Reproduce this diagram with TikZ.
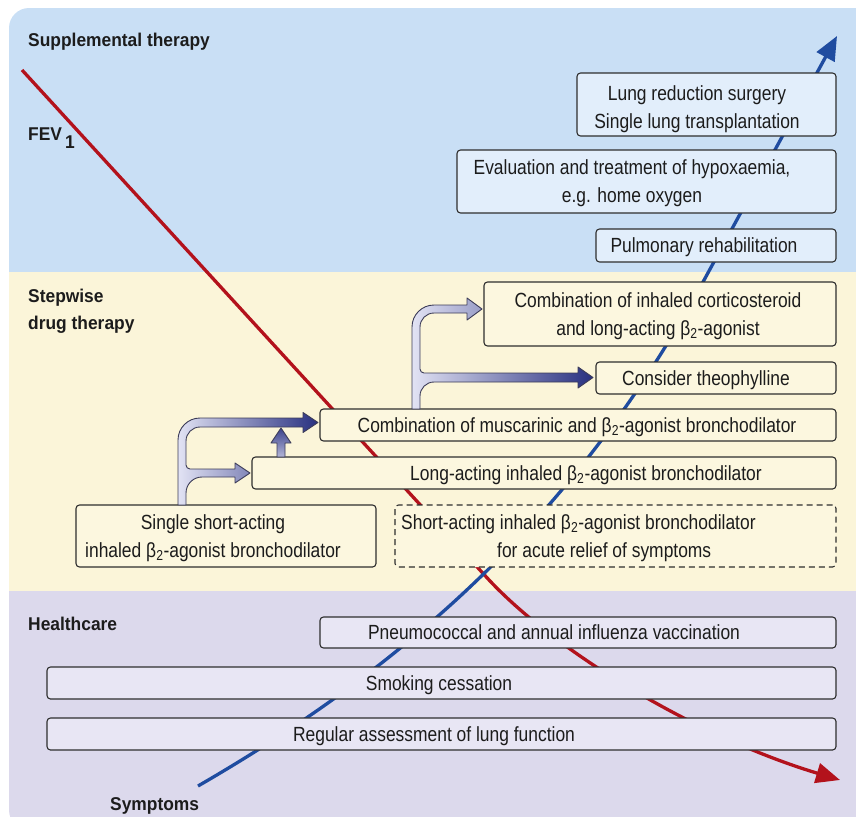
\documentclass[tikz,border=0pt]{standalone}
\usepackage{fontspec}
\setmainfont[FakeStretch=0.85]{Liberation Sans}
\newfontfamily\headfont[FakeStretch=0.94]{Liberation Sans}
\usetikzlibrary{arrows.meta}
\definecolor{bgblue}{HTML}{C9DFF5}
\definecolor{bgcream}{HTML}{FBF5D9}
\definecolor{bglav}{HTML}{DCD9EC}
\definecolor{boxblue}{HTML}{E2EEFB}
\definecolor{boxcream}{HTML}{FCF7DF}
\definecolor{boxlav}{HTML}{E8E6F4}
\definecolor{fevred}{HTML}{B3121C}
\definecolor{symblue}{HTML}{1F4CA0}
\definecolor{arrlight}{HTML}{E2E3F4}
\definecolor{arrdark}{HTML}{283080}
\definecolor{arredge}{HTML}{3C3C58}
\definecolor{boxedge}{HTML}{2E2E2E}
\definecolor{txtc}{HTML}{1C1C1C}
\begin{document}
\begin{tikzpicture}[x=1pt,y=-1pt,
  box/.style={draw=boxedge,line width=1.1pt,rounded corners=3.5pt,inner sep=0pt},
  bluebox/.style={box,fill=boxblue},
  creambox/.style={box,fill=boxcream},
  lavbox/.style={box,fill=boxlav},
  btext/.style={text=txtc,font=\fontsize{20.5}{28}\selectfont,align=center,inner sep=0pt},
  oneline/.style={btext,text height=14.7pt,text depth=0pt},
  sectitle/.style={text=txtc,font=\headfont\bfseries\fontsize{18.5}{27}\selectfont,inner sep=0pt,align=left},
  fevline/.style={draw=fevred,line width=3.3pt,-{Triangle[length=24pt,width=20pt]}},
  symline/.style={draw=symblue,line width=3.3pt,-{Triangle[length=24pt,width=20pt]}},
  blockarrow/.style={left color=arrlight,right color=arrdark,draw=arredge,line width=0.9pt,line join=round},
  uparrow/.style={bottom color=arrlight!75!arrdark,top color=arrdark!90!arrlight,draw=arredge,line width=0.9pt,line join=round}
]
\useasboundingbox (0,0) rectangle (856,816);
% background panel
\begin{scope}
  \clip[rounded corners=20pt] (9,8) rectangle (880,830);
  \fill[bgblue] (9,8) rectangle (880,272);
  \fill[bgcream] (9,272) rectangle (880,591);
  \fill[bglav] (9,591) rectangle (880,830);
\end{scope}
% curves
\coordinate (rs) at (22,70);
\coordinate (rm) at (490,581);
\coordinate (re) at (840,780);
\draw[fevline] (rs) -- (rm) .. controls (560,655) and (700,738) .. (re);
\coordinate (bs) at (198,786);
\coordinate (bm) at (703,282);
\coordinate (be) at (837,36);
\draw[symline] (bs) .. controls (423,656) and (583,502) .. (bm) -- (be);
% boxes
\node[bluebox,minimum width=259pt,minimum height=63pt] (lung) at (706.5,104.5) {};
\node[bluebox,minimum width=379pt,minimum height=63pt] (eval) at (646.5,181.5) {};
\node[bluebox,minimum width=240pt,minimum height=33pt] (pulm) at (716,245.5) {};
\node[creambox,minimum width=352pt,minimum height=64pt] (cort) at (660,314) {};
\node[creambox,minimum width=240pt,minimum height=32pt] (theo) at (716,378) {};
\node[creambox,minimum width=516pt,minimum height=32pt] (musc) at (578,425) {};
\node[creambox,minimum width=584pt,minimum height=32pt] (long) at (544,473) {};
\node[creambox,minimum width=300pt,minimum height=62pt] (single) at (226,536) {};
\node[creambox,dash pattern=on 6pt off 4pt,minimum width=441pt,minimum height=62pt] (acute) at (615.5,536) {};
\node[lavbox,minimum width=516pt,minimum height=31pt] (pneu) at (578,632.5) {};
\node[lavbox,minimum width=789pt,minimum height=32pt] (smoke) at (441.5,683) {};
\node[lavbox,minimum width=789pt,minimum height=32pt] (regular) at (441.5,734) {};
% block arrows
\shadedraw[blockarrow] (178,505) -- (178,440) .. controls (178,427.85) and (187.85,418) .. (200,418)
  -- (303,418) -- (303,412.5) -- (318,422.5) -- (303,432.5) -- (303,427) -- (200,427)
  .. controls (192.27,427) and (186,433.27) .. (186,441) -- (186,465)
  .. controls (186,467.2) and (187.8,469) .. (190,469) -- (235,469) -- (235,463) -- (250,473)
  -- (235,483) -- (235,477) -- (202,477) .. controls (193.16,477) and (186,484.16) .. (186,493)
  -- (186,505) -- cycle;
\shadedraw[uparrow] (277,457) -- (277,443) -- (271,443) -- (281,428) -- (291,443) -- (285,443) -- (285,457) -- cycle;
\shadedraw[blockarrow] (412,409) -- (412,327) .. controls (412,314.85) and (421.85,305) .. (434,305)
  -- (467,305) -- (467,298) -- (482,309) -- (467,320) -- (467,313) -- (434,313)
  .. controls (426.27,313) and (420,319.27) .. (420,327) -- (420,369)
  .. controls (420,371.2) and (421.8,373) .. (424,373) -- (578,373) -- (578,367) -- (593,377.5)
  -- (578,388) -- (578,382) -- (434,382) .. controls (426.27,382) and (420,388.27) .. (420,396)
  -- (420,409) -- cycle;
% box texts
\node[btext] (lungt) at (697,108.7) {Lung reduction surgery\\Single lung transplantation};
\node[btext] (evalt) at (632,183.5) {Evaluation and treatment of hypoxaemia,\\e.g. home oxygen};
\node[oneline] (pulmt) at (704,245.5) {Pulmonary rehabilitation};
\node[btext] (cortt) at (658,316) {Combination of inhaled corticosteroid\\and long-acting β\textsubscript{2}-agonist};
\node[oneline] (theot) at (706,378) {Consider theophylline};
\node[oneline] (musct) at (577,425) {Combination of muscarinic and β\textsubscript{2}-agonist bronchodilator};
\node[oneline] (longt) at (586,473) {Long-acting inhaled β\textsubscript{2}-agonist bronchodilator};
\node[btext] (singlet) at (213,538) {Single short-acting\\inhaled β\textsubscript{2}-agonist bronchodilator};
\node[btext,align=left,anchor=west] (acutet) at (401,538) {Short-acting inhaled β\textsubscript{2}-agonist bronchodilator\\\hspace*{96pt}for acute relief of symptoms};
\node[oneline] (pneut) at (554,632.5) {Pneumococcal and annual influenza vaccination};
\node[oneline] (smoket) at (439,683) {Smoking cessation};
\node[oneline] (regulart) at (434,734) {Regular assessment of lung function};
% section titles
\node[sectitle,anchor=base west] (supp) at (28,46.7) {Supplemental therapy};
\node[sectitle,anchor=base west] (fev) at (28,140) {FEV\hspace{3pt}\raisebox{-8pt}{1}};
\node[sectitle,anchor=west] (step) at (28,311) {Stepwise\\drug therapy};
\node[sectitle,anchor=base west] (hc) at (28,630) {Healthcare};
\node[sectitle,anchor=base west] (sym) at (110,810) {Symptoms};
\end{tikzpicture}
\end{document}
